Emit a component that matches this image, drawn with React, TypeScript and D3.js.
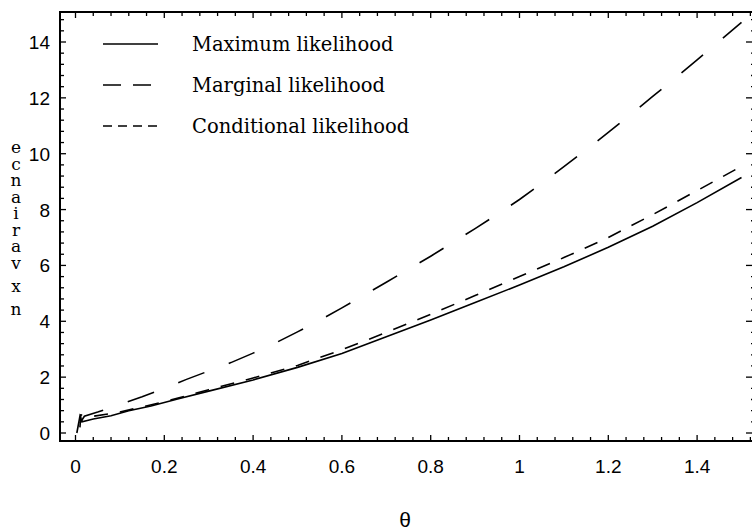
import React from "react";
import * as d3 from "d3";

const mlX = [0.003, 0.01, 0.015, 0.04, 0.08, 0.12, 0.17, 0.23, 0.3, 0.4, 0.5, 0.6, 0.7, 0.8, 0.9, 1.0, 1.1, 1.2, 1.3, 1.4, 1.5];
const mlY = [0, 0.6, 0.4, 0.5, 0.62, 0.8, 0.97, 1.22, 1.5, 1.9, 2.35, 2.85, 3.45, 4.05, 4.67, 5.3, 5.95, 6.65, 7.4, 8.25, 9.15];

const margX = [0.01, 0.02, 0.05, 0.1, 0.15, 0.2, 0.25, 0.3, 0.35, 0.4, 0.45, 0.5, 0.55, 0.6, 0.65, 0.7, 0.75, 0.8, 0.85, 0.9, 0.95, 1.0, 1.05, 1.1, 1.15, 1.2, 1.25, 1.3, 1.35, 1.4, 1.45, 1.5];
const margY = [0.35, 0.6, 0.75, 1.02, 1.3, 1.6, 1.92, 2.22, 2.52, 2.86, 3.22, 3.62, 4.04, 4.48, 4.94, 5.4, 5.86, 6.33, 6.82, 7.32, 7.83, 8.36, 8.94, 9.54, 10.14, 10.76, 11.4, 12.05, 12.7, 13.36, 14.03, 14.7];

const condX = [0.01, 0.012, 0.04, 0.1, 0.2, 0.3, 0.4, 0.5, 0.6, 0.7, 0.8, 0.9, 1.0, 1.1, 1.2, 1.3, 1.4, 1.5];
const condY = [0.2, 0.65, 0.6, 0.75, 1.12, 1.55, 1.97, 2.42, 2.98, 3.6, 4.25, 4.92, 5.6, 6.28, 7.0, 7.82, 8.68, 9.55];

const xTickLabels = ["0", "0.2", "0.4", "0.6", "0.8", "1", "1.2", "1.4"];
const yTickLabels = ["0", "2", "4", "6", "8", "10", "12", "14"];
const legendLabels = ["Maximum likelihood", "Marginal likelihood", "Conditional likelihood"];
const yLabel = "ecnairav x n";
const xLabel = "θ";

export default function App() {
  const W = 752, H = 531;
  const frameL = 60, frameR = 755, frameT = 12, frameB = 441;
  const x = d3.scaleLinear().domain([0, 1.5]).range([75.5, 741.5]);
  const y = d3.scaleLinear().domain([0, 14]).range([433, 42]);

  const line = d3.line<[number, number]>().x((d) => x(d[0])).y((d) => y(d[1]));
  const ml = line(mlX.map((v, i) => [v, mlY[i]]));
  const marg = line(margX.map((v, i) => [v, margY[i]]));
  const cond = line(condX.map((v, i) => [v, condY[i]]));

  const xMajor = xTickLabels.map((t) => +t);
  const xMinor = d3.range(0, 39).map((i) => i * 0.04).filter((v) => x(v) > frameL && x(v) < frameR && Math.abs(v / 0.2 - Math.round(v / 0.2)) > 1e-6);
  const yMajor = yTickLabels.map((t) => +t);
  const yMinor = d3.range(-1, 40).map((i) => i * 0.4).filter((v) => y(v) > frameT && y(v) < frameB && Math.abs(v / 2 - Math.round(v / 2)) > 1e-6);

  const majLen = 6, minLen = 4;
  const tickStroke = { stroke: "#000", strokeWidth: 1.3 };
  const legendRows = [44, 85, 126];
  const legendDash = [undefined, "18,12", "9,6"];

  return (
    <svg width={W} height={H} style={{ position: "absolute", left: 0, top: 0, background: "#fff" }}>
      <rect x={0} y={0} width={W} height={H} fill="#fff" />
      {xMajor.map((v, i) => (
        <g key={"xM" + i}>
          <line x1={x(v)} x2={x(v)} y1={frameB} y2={frameB - majLen} {...tickStroke} />
          <line x1={x(v)} x2={x(v)} y1={frameT} y2={frameT + majLen} {...tickStroke} />
        </g>
      ))}
      {xMinor.map((v, i) => (
        <g key={"xm" + i}>
          <line x1={x(v)} x2={x(v)} y1={frameB} y2={frameB - minLen} {...tickStroke} />
          <line x1={x(v)} x2={x(v)} y1={frameT} y2={frameT + minLen} {...tickStroke} />
        </g>
      ))}
      {yMajor.map((v, i) => (
        <g key={"yM" + i}>
          <line x1={frameL} x2={frameL + majLen} y1={y(v)} y2={y(v)} {...tickStroke} />
          <line x1={frameR} x2={frameR - majLen - 3} y1={y(v)} y2={y(v)} {...tickStroke} />
        </g>
      ))}
      {yMinor.map((v, i) => (
        <g key={"ym" + i}>
          <line x1={frameL} x2={frameL + minLen} y1={y(v)} y2={y(v)} {...tickStroke} />
          <line x1={frameR} x2={frameR - minLen} y1={y(v)} y2={y(v)} {...tickStroke} />
        </g>
      ))}
      <rect x={frameL} y={frameT} width={frameR - frameL} height={frameB - frameT} fill="none" stroke="#000" strokeWidth={2} />
      {xTickLabels.map((t, i) => (
        <text key={"xl" + i} x={x(xMajor[i])} y={473} textAnchor="middle" fontFamily="Liberation Sans" fontSize={19} fill="#000">{t}</text>
      ))}
      {yTickLabels.map((t, i) => (
        <text key={"yl" + i} x={50} y={y(yMajor[i]) + 7} textAnchor="end" fontFamily="Liberation Sans" fontSize={19} fill="#000">{t}</text>
      ))}
      <text x={405} y={527} textAnchor="middle" fontFamily="Liberation Sans" fontSize={21} fill="#000">{xLabel}</text>
      <text
        x={16}
        y={137}
        fontFamily="DejaVu Serif"
        fontSize={17}
        fill="#000"
        style={{ writingMode: "vertical-rl", textOrientation: "upright", letterSpacing: "-3.5px", wordSpacing: "-10px" } as any}
      >
        {yLabel}
      </text>
      <path d={ml || ""} fill="none" stroke="#000" strokeWidth={1.6} />
      <path d={marg || ""} fill="none" stroke="#000" strokeWidth={1.6} strokeDasharray="28,26" />
      <path d={cond || ""} fill="none" stroke="#000" strokeWidth={1.6} strokeDasharray="14,12" />
      {legendLabels.map((t, i) => (
        <g key={"lg" + i}>
          <line x1={103} x2={158} y1={legendRows[i]} y2={legendRows[i]} stroke="#000" strokeWidth={1.6} strokeDasharray={legendDash[i]} />
          <text x={192} y={legendRows[i] + 7} fontFamily="DejaVu Serif" fontSize={19.5} fill="#000">{t}</text>
        </g>
      ))}
    </svg>
  );
}
